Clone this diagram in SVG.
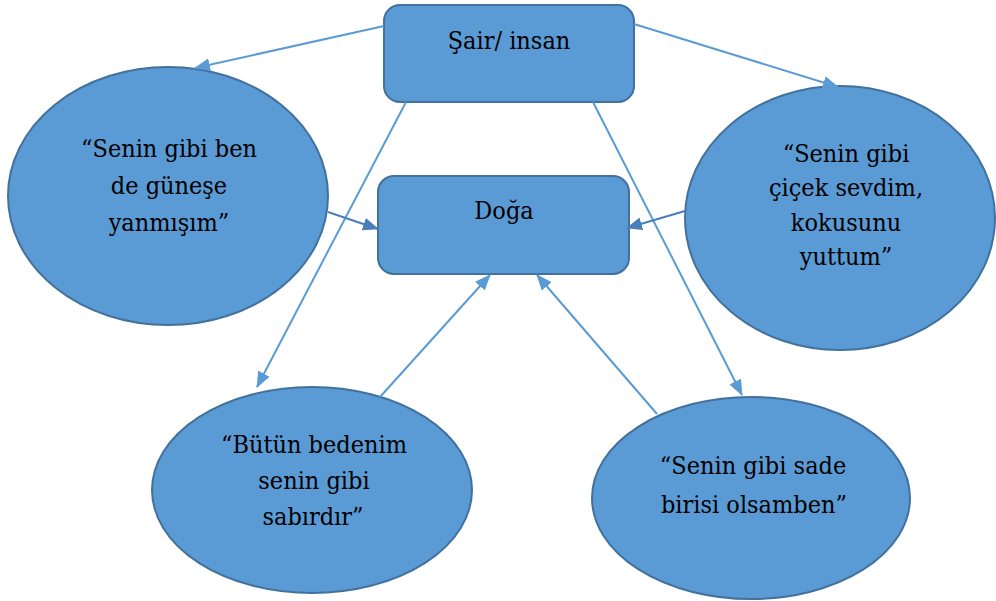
<svg xmlns="http://www.w3.org/2000/svg" width="996" height="601" viewBox="0 0 996 601">
  <defs>
    <style>
      .shape { fill: #5B9BD5; stroke: #41719C; stroke-width: 2; }
      .label { font-family: "DejaVu Serif Condensed", "DejaVu Serif", "Liberation Serif", serif; font-stretch: condensed; font-size: 25px; fill: #000000; text-anchor: middle; }
      .edge { fill: none; stroke: #5B9BD5; stroke-width: 2; }
      .edge.dark { stroke: #4A7EBB; }
    </style>
    <marker id="arrow" viewBox="0 0 16 13" refX="15" refY="6.5" markerWidth="16" markerHeight="13" markerUnits="userSpaceOnUse" orient="auto">
      <path d="M0,0 L16,6.5 L0,13 Z" fill="#5B9BD5"/>
    </marker>
    <marker id="arrow-dark" viewBox="0 0 16 13" refX="15" refY="6.5" markerWidth="16" markerHeight="13" markerUnits="userSpaceOnUse" orient="auto">
      <path d="M0,0 L16,6.5 L0,13 Z" fill="#4A7EBB"/>
    </marker>
  </defs>

  <rect width="996" height="601" fill="#FFFFFF"/>

  <g id="node-sair">
    <rect class="shape" x="384" y="5" width="250" height="97" rx="16" ry="16"/>
    <text class="label" x="509" y="49">Şair/ insan</text>
  </g>

  <g id="node-doga">
    <rect class="shape" x="378" y="176" width="251" height="98" rx="16" ry="16"/>
    <text class="label" x="504" y="219">Doğa</text>
  </g>

  <g id="node-gunes">
    <ellipse class="shape" cx="168" cy="196" rx="160" ry="129"/>
    <text class="label" x="169" y="157">“Senin gibi ben</text>
    <text class="label" x="169" y="194">de güneşe</text>
    <text class="label" x="169" y="231">yanmışım”</text>
  </g>

  <g id="node-cicek">
    <ellipse class="shape" cx="840" cy="218" rx="155" ry="132"/>
    <text class="label" x="846" y="162">“Senin gibi</text>
    <text class="label" x="846" y="196">çiçek sevdim,</text>
    <text class="label" x="846" y="231">kokusunu</text>
    <text class="label" x="846" y="265">yuttum”</text>
  </g>

  <g id="node-sabir">
    <ellipse class="shape" cx="312" cy="490" rx="160" ry="103"/>
    <text class="label" x="314" y="453">“Bütün bedenim</text>
    <text class="label" x="314" y="489">senin gibi</text>
    <text class="label" x="313" y="525">sabırdır”</text>
  </g>

  <g id="node-sade">
    <ellipse class="shape" cx="751" cy="498" rx="159" ry="101"/>
    <text class="label" x="753" y="474">“Senin gibi sade</text>
    <text class="label" x="754" y="513">birisi olsamben”</text>
  </g>

  <g id="connectors">
    <line class="edge" x1="384" y1="26" x2="195" y2="68" marker-end="url(#arrow)"/>
    <line class="edge" x1="634" y1="24" x2="838" y2="87" marker-end="url(#arrow)"/>
    <line class="edge" x1="406" y1="102" x2="257" y2="387" marker-end="url(#arrow)"/>
    <line class="edge" x1="593" y1="102" x2="742" y2="395" marker-end="url(#arrow)"/>
    <line class="edge dark" x1="328" y1="212" x2="378" y2="229" marker-end="url(#arrow-dark)"/>
    <line class="edge dark" x1="685" y1="211" x2="627" y2="228" marker-end="url(#arrow-dark)"/>
    <line class="edge" x1="380" y1="397" x2="490" y2="275" marker-end="url(#arrow)"/>
    <line class="edge" x1="657" y1="414" x2="537" y2="275" marker-end="url(#arrow)"/>
  </g>
</svg>
